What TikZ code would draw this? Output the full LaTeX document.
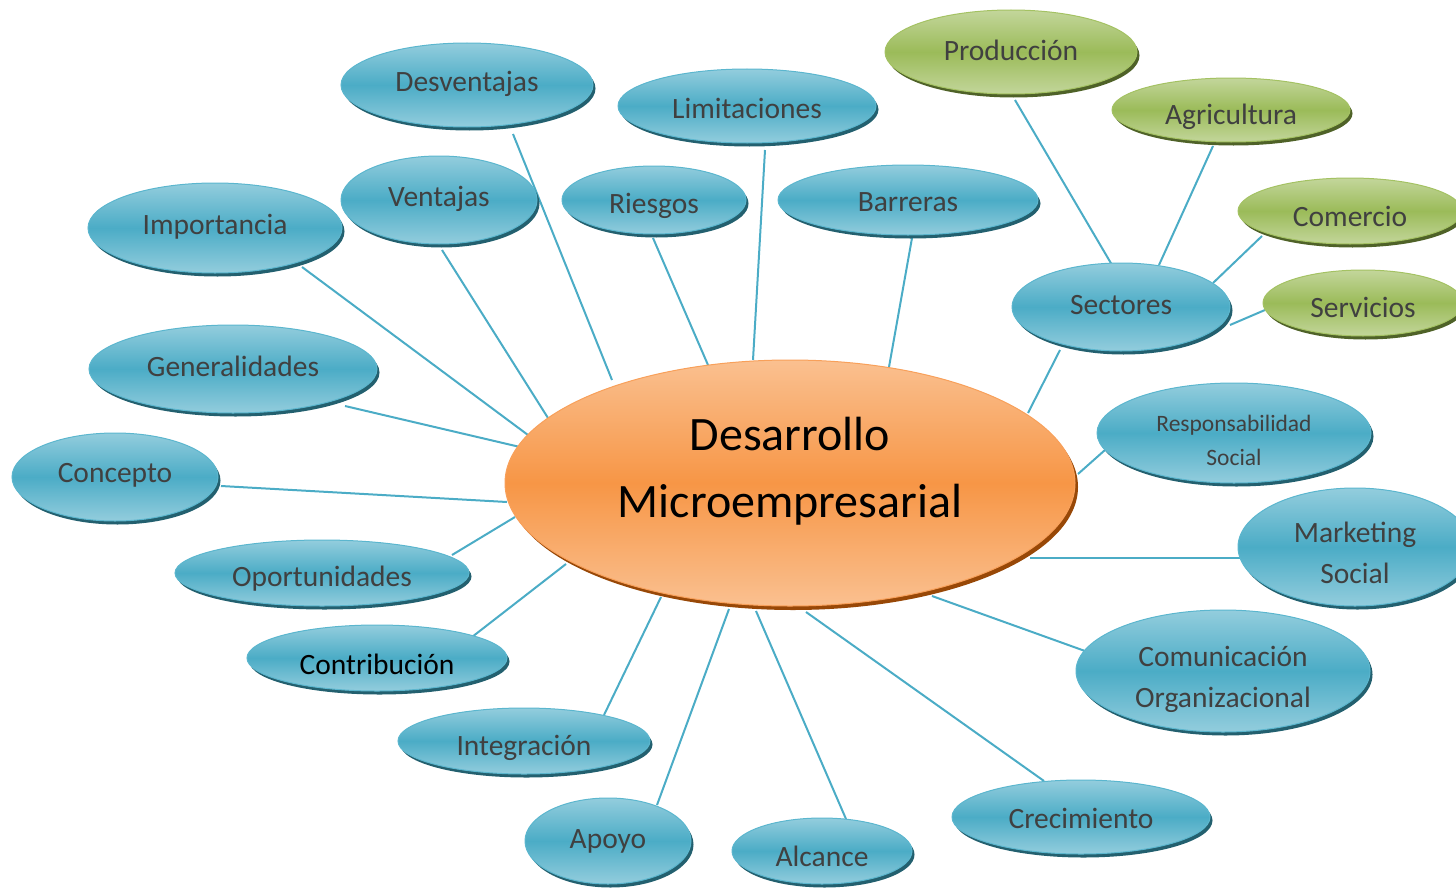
\documentclass[tikz,border=0pt]{standalone}
\usepackage{fontspec}
\setmainfont{Carlito}
\usetikzlibrary{shapes.geometric,backgrounds,shadows}
\definecolor{blueL}{HTML}{93CDDD}
\definecolor{blueM}{HTML}{4BACC6}
\definecolor{blueD}{HTML}{23606F}
\definecolor{blueE}{HTML}{5BB6CE}
\definecolor{greenL}{HTML}{C3D69B}
\definecolor{greenM}{HTML}{9BBB59}
\definecolor{greenD}{HTML}{4F6228}
\definecolor{greenE}{HTML}{A4C263}
\definecolor{orangeL}{HTML}{FAC090}
\definecolor{orangeM}{HTML}{F79646}
\definecolor{orangeD}{HTML}{984807}
\definecolor{orangeE}{HTML}{F8A05A}
\definecolor{txt}{HTML}{404040}
\definecolor{linkc}{HTML}{4BACC6}
% lower text by #1 without changing the box size
\newcommand\tdn[2]{\raisebox{-#1pt}[\height][\depth]{#2}}
\tikzset{
  nbase/.style={ellipse, inner sep=0pt, align=center, text=txt, line width=1pt,
    font=\fontsize{29.5}{41}\selectfont},
  rad/.style 2 args={minimum width={2*#1pt}, minimum height={2*#2pt}},
  bnode/.style={nbase, draw=blueE, top color=blueL, bottom color=blueL, middle color=blueM,
    general shadow={fill=blueD, shadow xshift=2.5pt, shadow yshift=-3.5pt}},
  gnode/.style={nbase, draw=greenE, top color=greenL, bottom color=greenL, middle color=greenM,
    general shadow={fill=greenD, shadow xshift=2.5pt, shadow yshift=-3.5pt}},
  onode/.style={nbase, draw=orangeE, top color=orangeL, bottom color=orangeL, middle color=orangeM,
    text=black, font=\fontsize{48}{67}\selectfont,
    general shadow={fill=orangeD, shadow xshift=3pt, shadow yshift=-4pt}},
  link/.style={draw=linkc, line width=2pt}
}
\begin{document}
\begin{tikzpicture}[x=1pt,y=-1pt]
\useasboundingbox (0,0) rectangle (1456,891);
\clip (0,0) rectangle (1456,891);
% central node
\node[onode, rad={285}{123}] (main) at (790,483) {\tdn{-12}{Desarrollo}\\\tdn{-12}{Microempresarial}};
% blue nodes
\node[bnode, rad={126}{42}] (desv) at (467,85) {\tdn{-1}{Desventajas}};
\node[bnode, rad={129}{37}] (limit) at (747,106) {\tdn{2}{Limitaciones}};
\node[bnode, rad={98}{44}] (vent) at (439,200) {\tdn{-1}{Ventajas}};
\node[bnode, rad={92}{34}] (ries) at (654,200) {\tdn{6}{Riesgos}};
\node[bnode, rad={130}{35}] (barr) at (908,200) {\tdn{2}{Barreras}};
\node[bnode, rad={127}{45}] (imp) at (215,228) {\tdn{-1}{Importancia}};
\node[bnode, rad={144}{44}] (gen) at (233,369) {\tdn{-3}{Generalidades}};
\node[bnode, rad={103}{44}] (conc) at (115,477) {\tdn{-2}{Concepto}};
\node[bnode, rad={147}{33}] (opor) at (322,573) {\tdn{6}{Oportunidades}};
\node[bnode, rad={130}{33}, text=black] (contr) at (377,658) {\tdn{6}{Contribución}};
\node[bnode, rad={126}{33}] (integ) at (524,741) {\tdn{7}{Integración}};
\node[bnode, rad={83}{43}] (apoyo) at (608,841) {Apoyo};
\node[bnode, rad={90}{33}] (alc) at (822,851) {\tdn{5}{Alcance}};
\node[bnode, rad={129}{37}] (crec) at (1081,817) {\tdn{1}{Crecimiento}};
\node[bnode, rad={147}{61}] (com) at (1223,671) {\tdn{8}{Comunicación}\\\tdn{8}{Organizacional}};
\node[bnode, rad={117}{59}] (mkt) at (1355,547) {\tdn{6}{Marketing}\\\tdn{6}{Social}};
\node[bnode, rad={137}{50}, font=\fontsize{23.5}{34}\selectfont] (resp) at (1234,433) {\tdn{7}{Responsabilidad}\\\tdn{7}{Social}};
\node[bnode, rad={109}{44}] (sect) at (1121,307) {\tdn{-2}{Sectores}};
% green nodes
\node[gnode, rad={126}{42}] (prod) at (1011,52) {\tdn{-2}{Producción}};
\node[gnode, rad={119}{32}] (agri) at (1231,110) {\tdn{7}{Agricultura}};
\node[gnode, rad={112}{33}] (comer) at (1350,211) {\tdn{5}{Comercio}};
\node[gnode, rad={100}{33}] (serv) at (1363,303) {\tdn{4}{Servicios}};
% connectors
\begin{pgfonlayer}{background}
\draw[link] ([shift={(46,49)}]desv.center) -- ([shift={(-178,-103)}]main.center);
\draw[link] ([shift={(18,44)}]limit.center) -- ([shift={(-37,-123)}]main.center);
\draw[link] ([shift={(3,50)}]vent.center) -- ([shift={(-242,-65)}]main.center);
\draw[link] ([shift={(-1,38)}]ries.center) -- ([shift={(-82,-118)}]main.center);
\draw[link] ([shift={(4,38)}]barr.center) -- ([shift={(99,-116)}]main.center);
\draw[link] ([shift={(87,39)}]imp.center) -- ([shift={(-262,-48)}]main.center);
\draw[link] ([shift={(112,37)}]gen.center) -- ([shift={(-270,-36)}]main.center);
\draw[link] ([shift={(106,9)}]conc.center) -- ([shift={(-283,19)}]main.center);
\draw[link] ([shift={(130,-18)}]opor.center) -- ([shift={(-275,34)}]main.center);
\draw[link] ([shift={(95,-21)}]contr.center) -- ([shift={(-224,81)}]main.center);
\draw[link] ([shift={(80,-26)}]integ.center) -- ([shift={(-129,114)}]main.center);
\draw[link] ([shift={(49,-36)}]apoyo.center) -- ([shift={(-61,126)}]main.center);
\draw[link] ([shift={(24,-32)}]alc.center) -- ([shift={(-34,128)}]main.center);
\draw[link] ([shift={(-37,-36)}]crec.center) -- ([shift={(16,129)}]main.center);
\draw[link] ([shift={(-138,-20)}]com.center) -- ([shift={(142,113)}]main.center);
\draw[link] ([shift={(-115,11)}]mkt.center) -- ([shift={(240,75)}]main.center);
\draw[link] ([shift={(-129,17)}]resp.center) -- ([shift={(288,-9)}]main.center);
\draw[link] ([shift={(-61,43)}]sect.center) -- ([shift={(238,-70)}]main.center);
\draw[link] ([shift={(4,48)}]prod.center) -- ([shift={(-9,-42)}]sect.center);
\draw[link] ([shift={(-18,36)}]agri.center) -- ([shift={(38,-42)}]sect.center);
\draw[link] ([shift={(-88,25)}]comer.center) -- ([shift={(92,-24)}]sect.center);
\draw[link] ([shift={(-98,7)}]serv.center) -- ([shift={(109,18)}]sect.center);
\end{pgfonlayer}
\end{tikzpicture}
\end{document}
